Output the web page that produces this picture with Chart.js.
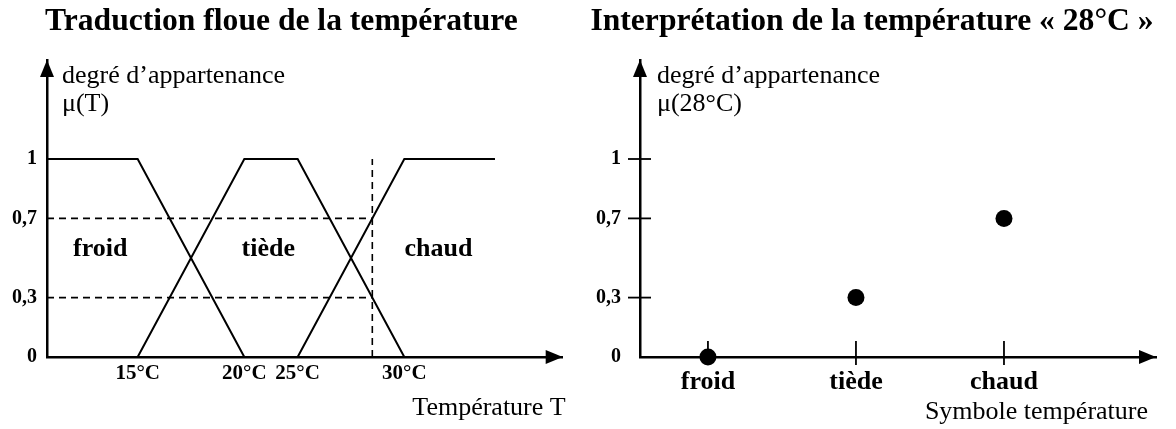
<!DOCTYPE html>
<html><head><meta charset="utf-8">
<script src="https://cdn.jsdelivr.net/npm/chart.js@4.4.1/dist/chart.umd.min.js"></script>
<style>
html,body{margin:0;padding:0;background:#fff;width:1176px;height:429px;overflow:hidden;}
#wrap{position:relative;width:1176px;height:429px;background:#fff;}
#c1{position:absolute;left:0;top:0;}
#c2{position:absolute;left:588px;top:0;}
</style></head><body>
<div id="wrap">
<canvas id="c1" width="619" height="429"></canvas>
<canvas id="c2" width="588" height="429"></canvas>
</div>
<script>
// ---- data (left panel: x in drawing units along the temperature axis) ----
const tempTickPos    = [1.7, 3.7, 4.7, 6.7];
const tempTickLabels = ['15°C', '20°C', '25°C', '30°C'];
const froidX = [0, 1.7, 3.7];        const froidMu = [1, 1, 0];
const tiedeX = [1.7, 3.7, 4.7, 6.7]; const tiedeMu = [0, 1, 1, 0];
const chaudX = [4.7, 6.7, 8.4];      const chaudMu = [0, 1, 1];
const t28Pos = 6.1;                   // position of 28°C on the drawn axis
const muTicks = [0, 0.3, 0.7, 1];
const muTickLabels = ['0', '0,3', '0,7', '1'];
const seriesNames = ['froid', 'tiède', 'chaud'];
// ---- data (right panel) ----
const symbols = ['froid', 'tiède', 'chaud'];
const mu28 = [0, 0.3, 0.7];

const F = "'Liberation Serif', 'Times New Roman', serif";
const zip = (xs, ys) => xs.map((x, i) => ({x: x, y: ys[i]}));
const muLabel = v => muTickLabels[muTicks.indexOf(v)] ?? String(v).replace('.', ',');

function arrowUp(ctx, x, y) { ctx.beginPath(); ctx.moveTo(x, y); ctx.lineTo(x - 7, y + 17); ctx.lineTo(x + 7, y + 17); ctx.closePath(); ctx.fill(); }
function arrowRight(ctx, x, y) { ctx.beginPath(); ctx.moveTo(x, y); ctx.lineTo(x - 17, y - 7); ctx.lineTo(x - 17, y + 7); ctx.closePath(); ctx.fill(); }

const solid = (data) => ({type: 'line', data, borderColor: '#000', borderWidth: 2, pointRadius: 0, tension: 0, fill: false, clip: false});
const dashed = (data) => ({type: 'line', data, borderColor: '#000', borderWidth: 1.6, borderDash: [7, 5], pointRadius: 0, tension: 0, fill: false, clip: false});

// label anchors (drawing units) for the fuzzy set names
const nameAnchors = [{x: 1.0, y: 0.51}, {x: 4.15, y: 0.51}, {x: 7.34, y: 0.51}];

const leftPlugin = {
  id: 'leftDecor',
  afterDraw(chart) {
    const {ctx, chartArea: a, scales: {x, y}} = chart;
    ctx.save();
    ctx.fillStyle = '#000';
    arrowUp(ctx, a.left, a.top);
    arrowRight(ctx, a.right, a.bottom);
    ctx.font = 'bold 26px ' + F;
    ctx.textAlign = 'center'; ctx.textBaseline = 'alphabetic';
    seriesNames.forEach((n, i) => ctx.fillText(n, x.getPixelForValue(nameAnchors[i].x), y.getPixelForValue(nameAnchors[i].y)));
    ctx.font = '26px ' + F;
    ctx.textAlign = 'left';
    ctx.fillText('degré d\u2019appartenance', a.left + 15, 83);
    ctx.fillText('\u03bc(T)', a.left + 15, 111);
    ctx.textAlign = 'right';
    ctx.fillText('Température T', a.right + 3, 415);
    ctx.restore();
  }
};

const rightPlugin = {
  id: 'rightDecor',
  afterDraw(chart) {
    const {ctx, chartArea: a, scales: {x, y}} = chart;
    ctx.save();
    ctx.fillStyle = '#000'; ctx.strokeStyle = '#000'; ctx.lineWidth = 1.8;
    arrowUp(ctx, a.left, a.top);
    arrowRight(ctx, a.right, a.bottom);
    muTicks.filter(v => v > 0).forEach(v => {
      const py = y.getPixelForValue(v);
      ctx.beginPath(); ctx.moveTo(a.left - 12, py); ctx.lineTo(a.left + 11, py); ctx.stroke();
    });
    symbols.forEach((s, i) => {
      const px = x.getPixelForValue(i);
      ctx.beginPath(); ctx.moveTo(px, a.bottom - 16); ctx.lineTo(px, a.bottom + 8); ctx.stroke();
    });
    ctx.font = '26px ' + F;
    ctx.textAlign = 'left'; ctx.textBaseline = 'alphabetic';
    ctx.fillText('degré d\u2019appartenance', a.left + 17, 83);
    ctx.fillText('\u03bc(28°C)', a.left + 17, 111);
    ctx.textAlign = 'right';
    ctx.fillText('Symbole température', a.right - 8, 419);
    ctx.restore();
  }
};

const yScale = (w, pad) => ({
  type: 'linear', min: 0, max: 1.5,
  afterBuildTicks: s => { s.ticks = muTicks.map(v => ({value: v})); },
  afterFit: s => { s.width = w; },
  ticks: {callback: v => muLabel(v), font: {family: F, size: 20, weight: 'bold'}, color: '#000', padding: pad, autoSkip: false},
  grid: {display: false, drawTicks: false},
  border: {display: true, width: 2.5, color: '#000'}
});

const titleFont = {family: F, size: 31.6, weight: 'bold'};
const titlePad = {top: 3.1, bottom: 18.98};

const common = {
  responsive: false, maintainAspectRatio: false, animation: false, devicePixelRatio: 1,
  events: []
};

new Chart(document.getElementById('c1'), {
  type: 'line',
  data: {datasets: [
    solid(zip(froidX, froidMu)),
    solid(zip(tiedeX, tiedeMu)),
    solid(zip(chaudX, chaudMu)),
    dashed([{x: 0, y: mu28[2]}, {x: t28Pos, y: mu28[2]}]),
    dashed([{x: 0, y: mu28[1]}, {x: t28Pos, y: mu28[1]}]),
    dashed([{x: t28Pos, y: 0}, {x: t28Pos, y: 1}])
  ]},
  options: Object.assign({}, common, {
    layout: {padding: {left: 0, right: 56.3, top: 0, bottom: 22}},
    plugins: {
      legend: {display: false}, tooltip: {enabled: false},
      title: {display: true, text: 'Traduction floue de la température', color: '#000',
              font: titleFont, padding: titlePad}
    },
    scales: {
      x: {
        type: 'linear', min: 0, max: 9.67,
        afterBuildTicks: s => { s.ticks = tempTickPos.map(v => ({value: v})); },
        afterFit: s => { s.height = 50; },
        ticks: {callback: v => tempTickLabels[tempTickPos.indexOf(v)], font: {family: F, size: 21, weight: 'bold'},
                color: '#000', padding: 4, autoSkip: false, maxRotation: 0},
        grid: {display: false, drawTicks: false},
        border: {display: true, width: 2.5, color: '#000'}
      },
      y: yScale(47, 10)
    }
  }),
  plugins: [leftPlugin]
});

new Chart(document.getElementById('c2'), {
  type: 'scatter',
  data: {datasets: [{
    data: symbols.map((s, i) => ({x: i, y: mu28[i]})),
    pointRadius: 8.5, pointBackgroundColor: '#000', pointBorderColor: '#000', pointBorderWidth: 0,
    showLine: false, clip: false
  }]},
  options: Object.assign({}, common, {
    layout: {padding: {left: 0, right: 20, top: 0, bottom: 22}},
    plugins: {
      legend: {display: false}, tooltip: {enabled: false},
      title: {display: true, text: 'Interprétation de la température « 28°C »', color: '#000',
              font: titleFont, padding: titlePad}
    },
    scales: {
      x: {
        type: 'linear', min: -0.459, max: 3.027,
        afterBuildTicks: s => { s.ticks = symbols.map((s2, i) => ({value: i})); },
        afterFit: s => { s.height = 50; },
        ticks: {callback: v => symbols[v], font: {family: F, size: 26, weight: 'bold'},
                color: '#000', padding: 9.5, autoSkip: false, maxRotation: 0},
        grid: {display: false, drawTicks: false},
        border: {display: true, width: 2.5, color: '#000'}
      },
      y: yScale(52, 19)
    }
  }),
  plugins: [rightPlugin]
});
</script>
</body></html>
